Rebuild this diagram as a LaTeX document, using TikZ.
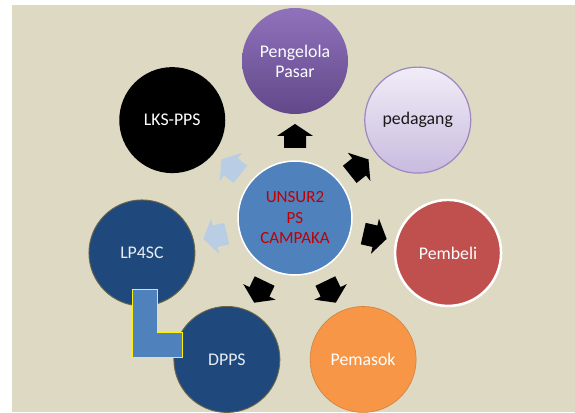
\documentclass[tikz,border=0pt]{standalone}
\usepackage{fontspec}
\setmainfont{Carlito}
\usetikzlibrary{calc}

\definecolor{paper}{HTML}{DDD9C3}
\definecolor{hubblue}{HTML}{4F81BD}
\definecolor{navy}{HTML}{1F497D}
\definecolor{rimbrown}{HTML}{6E6646}
\definecolor{brick}{HTML}{C0504D}
\definecolor{orange}{HTML}{F79646}
\definecolor{paleblue}{HTML}{B9CDE5}
\definecolor{hubtext}{HTML}{C00000}
\definecolor{lavtop}{HTML}{F1EDF7}
\definecolor{lavbot}{HTML}{C8BBDF}
\definecolor{lavrim}{HTML}{9C87C1}
\definecolor{plumtop}{HTML}{9072BC}
\definecolor{plumbot}{HTML}{624889}

\tikzset{
  bubble/.style={circle, minimum size=106pt, inner sep=0pt, align=center,
    font=\fontsize{17.8}{20}\selectfont, text=white},
  hubstyle/.style={circle, minimum size=114pt, inner sep=0pt,
    text width=90pt, align=center,
    fill=hubblue, draw=white, line width=1.5pt,
    font=\fontsize{17}{20.5}\selectfont, text=hubtext},
  navybubble/.style={bubble, fill=navy, draw=rimbrown, line width=0.9pt, text=white!90!navy},
  darkarrow/.style={fill=black},
  lightarrow/.style={fill=paleblue},
  blockarrow/.pic={
    \path[pic actions] (-12,-11) -- (0,-11) -- (0,-18) -- (12,0) -- (0,18)
      -- (0,11) -- (-12,11) -- cycle;
  },
  elbow/.style={fill=hubblue, draw=yellow, line width=1pt, line join=miter}
}

\begin{document}
\begin{tikzpicture}[x=1pt, y=1pt]
  \clip (0,0) rectangle (575,412);
  \fill[white] (0,0) rectangle (575,412);
  \fill[paper] (12,0) rectangle (575,407);

  % central element
  \node[hubstyle] (hub) at (295,194) {UNSUR2\\PS\\CAMPAKA};

  % seven surrounding elements, evenly spaced
  \node[bubble, top color=plumtop, bottom color=plumbot]
    (pengelola) at ($(hub)+(90:157)$) {Pengelola\\Pasar};
  \node[bubble, top color=lavtop, bottom color=lavbot, draw=lavrim, line width=1.2pt,
    text=black!90]
    (pedagang) at ($(hub)+(38.571:157)$) {pedagang};
  \node[bubble, fill=brick, draw=white, line width=2.5pt]
    (pembeli) at ($(hub)+(-12.857:157)$) {Pembeli};
  \node[bubble, fill=orange, draw=orange!85!black, line width=0.6pt]
    (pemasok) at ($(hub)+(-64.286:157)$) {Pemasok};
  \node[navybubble]
    (dpps) at ($(hub)+(-115.714:157)$) {DPPS};
  \node[navybubble]
    (lp4sc) at ($(hub)+(-167.143:157)$) {LP4SC};
  \node[bubble, fill=black]
    (lkspps) at ($(hub)+(141.429:157)$) {LKS-PPS};

  % outward block arrows around the centre
  \foreach \a in {90, 38.571, -12.857, -64.286, -115.714}
    \pic[darkarrow, rotate=\a] at ($(hub)+(\a:82)$) {blockarrow};
  \foreach \a in {-167.143, 141.429}
    \pic[lightarrow, rotate=\a] at ($(hub)+(\a:82)$) {blockarrow};

  % elbow shape between LP4SC and DPPS
  \draw[elbow] (132,122) -- (157,122) -- (157,79) -- (182,79) -- (182,54)
    -- (132,54) -- cycle;
\end{tikzpicture}
\end{document}
